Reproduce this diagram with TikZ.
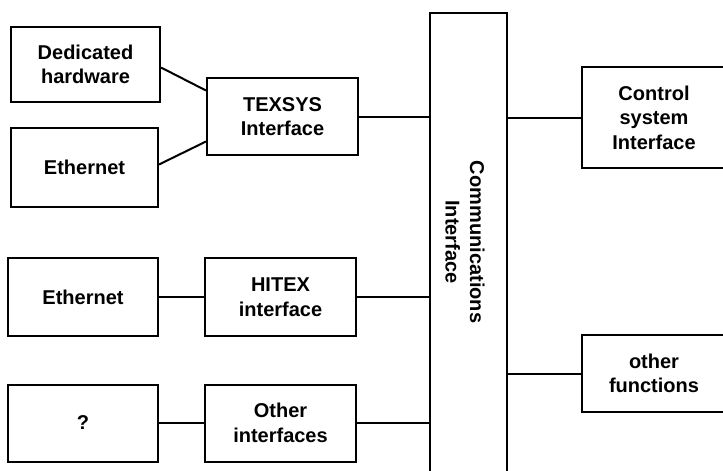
\documentclass[tikz,border=0pt]{standalone}
\usepackage{fontspec}
\setmainfont{Liberation Sans}
\usetikzlibrary{positioning, calc}

\tikzset{
  blockbox/.style={draw, line width=2pt, align=center, inner sep=0pt,
    font=\fontsize{20}{24.5}\selectfont\bfseries},
  link/.style={line width=2pt}
}

\begin{document}
\begin{tikzpicture}[x=1pt, y=-1pt]
  \useasboundingbox (0,0) rectangle (723,471);

  % Left column: sources
  \node[blockbox, minimum width=149pt, minimum height=75pt] (dedhw) at (85.5,64.5) {Dedicated\\hardware};
  \node[blockbox, minimum width=147pt, minimum height=79pt] (ethA) at (84.5,167.5) {Ethernet};
  \node[blockbox, minimum width=150pt, minimum height=78pt] (ethB) at (83,297) {Ethernet};
  \node[blockbox, minimum width=150pt, minimum height=77pt] (unknown) at (83,423) {?};

  % Interfaces
  \node[blockbox, minimum width=151pt, minimum height=77pt] (texsys) at (282.5,116.5) {TEXSYS\\Interface};
  \node[blockbox, minimum width=151pt, minimum height=78pt] (hitex) at (280.5,297) {HITEX\\interface};
  \node[blockbox, minimum width=151pt, minimum height=77pt] (otherif) at (280.5,423) {Other\\interfaces};

  % Communications bar
  \node[blockbox, minimum width=77pt, minimum height=480pt] (comm) at (468.5,253) {};
  \node[font=\fontsize{20}{24.5}\selectfont\bfseries, align=center, rotate=-90] (commtext) at (465,242) {Communications\\Interface};

  % Right column: functions
  \node[blockbox, minimum width=144pt, minimum height=101pt] (ctrl) at (654,117.5) {Control\\system\\Interface};
  \node[blockbox, minimum width=144pt, minimum height=77pt] (otherfn) at (654,373.5) {other\\functions};

  % Connections
  \draw[link] ([yshift=-3pt]dedhw.east) -- ([yshift=26pt]texsys.west);
  \draw[link] ([yshift=3pt]ethA.east) -- ([yshift=-25pt]texsys.west);
  \draw[link] (texsys.east) -- (texsys.east -| comm.west);
  \draw[link] (ethB.east) -- (hitex.west);
  \draw[link] (hitex.east) -- (hitex.east -| comm.west);
  \draw[link] (unknown.east) -- (otherif.west);
  \draw[link] (otherif.east) -- (otherif.east -| comm.west);
  \draw[link] (ctrl.west -| comm.east) -- (ctrl.west);
  \draw[link] (otherfn.west -| comm.east) -- (otherfn.west);
\end{tikzpicture}
\end{document}
